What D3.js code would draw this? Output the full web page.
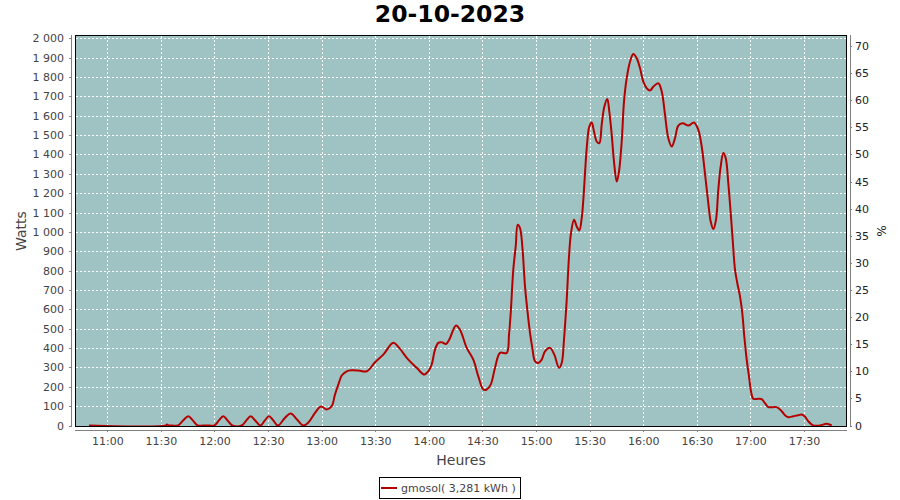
<!DOCTYPE html>
<html>
<head>
<meta charset="utf-8">
<script src="https://cdn.jsdelivr.net/npm/d3@7"></script>
<style>
  html, body { margin: 0; padding: 0; background: #ffffff; }
  svg { display: block; }
  text { font-family: "DejaVu Sans", sans-serif; }
</style>
</head>
<body>
<svg id="chart" width="900" height="500"></svg>
<script>
// ---------- data ----------
const title = "20-10-2023";
const seriesName = "gmosol( 3,281 kWh )";
const yLabel = "Watts";
const y2Label = "%";
const xLabel = "Heures";

const times = [
  "10:49:45","11:32:52","11:33:25","11:34:32","11:36:13","11:39:35","11:42:32","11:45:20","11:47:58","11:50:36",
  "11:53:24","11:57:06","11:59:54","12:02:24","12:04:56","12:07:24","12:09:58","12:15:14","12:17:45","12:20:16",
  "12:22:54","12:25:46","12:28:06","12:30:31","12:33:00","12:35:30","12:39:30","12:42:40","12:46:12","12:49:43",
  "12:52:31","12:56:16","12:59:38","13:02:49","13:05:37","13:07:28","13:09:19","13:11:13","13:14:01","13:16:49",
  "13:20:30","13:25:13","13:29:51","13:34:30","13:40:06","13:42:54","13:48:30","13:53:12","13:57:27","13:59:41",
  "14:01:36","14:03:26","14:05:17","14:07:11","14:09:36","14:11:26","14:15:12","14:17:26","14:21:11","14:24:53",
  "14:27:41","14:30:29","14:32:23","14:34:37","14:37:02","14:39:50","14:43:35","14:44:52","14:45:49","14:47:16",
  "14:48:37","14:49:44","14:51:01","14:52:19","14:53:49","14:55:07","14:56:37","14:57:55","14:59:25","15:01:16",
  "15:03:10","15:05:01","15:07:49","15:10:13","15:12:51","15:14:22","15:15:39","15:17:10","15:18:27","15:19:34",
  "15:21:15","15:22:46","15:24:13","15:25:34","15:26:28","15:27:25","15:28:22","15:29:49","15:31:10","15:32:26",
  "15:33:58","15:35:25","15:36:46","15:38:13","15:39:53","15:41:01","15:42:22","15:43:38","15:45:10","15:46:26",
  "15:47:57","15:49:14","15:50:45","15:52:36","15:54:27","15:56:21","15:58:12","16:00:02","16:01:57","16:03:48",
  "16:05:38","16:08:26","16:10:21","16:12:12","16:14:02","16:15:56","16:17:47","16:19:38","16:22:06","16:25:14",
  "16:28:25","16:30:50","16:32:44","16:34:35","16:36:25","16:37:46","16:39:13","16:40:44","16:42:01","16:43:22",
  "16:44:49","16:46:10","16:47:37","16:48:58","16:50:04","16:51:22","16:52:39","16:54:10","16:55:27","16:56:34",
  "16:57:55","16:59:12","17:00:19","17:01:37","17:04:25","17:06:19","17:08:10","17:10:01","17:14:43","17:17:30",
  "17:19:21","17:21:12","17:24:00","17:26:48","17:28:42","17:30:33","17:32:23","17:34:18","17:35:11","17:38:56",
  "17:42:41","17:45:29"
];
const watts = [
  0,0,5,0,0,0,27,48,25,0,
  0,0,0,25,48,25,0,0,25,48,
  25,0,25,48,25,0,40,62,31,0,
  15,65,98,83,100,160,211,258,280,285,
  284,280,327,366,427,406,340,298,263,280,
  315,392,427,430,421,444,517,495,401,340,
  254,186,186,211,298,375,375,469,581,805,
  925,1037,1020,925,719,598,478,401,332,323,
  340,383,401,366,298,323,444,650,873,994,
  1063,1028,1007,1071,1166,1304,1433,1544,1565,1518,
  1467,1458,1555,1647,1687,1621,1501,1363,1260,1312,
  1467,1673,1794,1879,1919,1897,1845,1776,1742,1730,
  1750,1768,1725,1604,1484,1441,1484,1549,1561,1549,
  1565,1527,1441,1300,1149,1054,1015,1063,1217,1338,
  1407,1381,1252,1097,960,805,736,667,581,461,
  340,254,177,138,138,136,115,95,95,74,
  53,43,48,53,57,45,22,5,0,0,
  9,0
];
const timeTickLabels = ["11:00","11:30","12:00","12:30","13:00","13:30","14:00","14:30","15:00","15:30","16:00","16:30","17:00","17:30"];
const wattTicks = [0,100,200,300,400,500,600,700,800,900,1000,1100,1200,1300,1400,1500,1600,1700,1800,1900,2000];
const percentTicks = [0,5,10,15,20,25,30,35,40,45,50,55,60,65,70];
const timeDomain = ["10:42:12","17:53:47"];
const wattMax = 2017;
const peakPower = 2800; // W corresponding to 100 %

// ---------- layout ----------
const plot = { left: 75.5, top: 35.5, right: 846.5, bottom: 426.5 };
const svg = d3.select("#chart");
svg.append("rect").attr("width", 900).attr("height", 500).attr("fill", "#ffffff");

const parse = d3.timeParse("%H:%M:%S");
const data = times.map((t, i) => ({ t: parse(t), w: watts[i] }));

const x = d3.scaleTime().domain(timeDomain.map(parse)).range([plot.left, plot.right]);
const y = d3.scaleLinear().domain([0, wattMax]).range([425.5, 35]);
const y2 = d3.scaleLinear().domain([0, wattMax / peakPower * 100]).range([425.5, 35]);

const fr = d3.formatLocale({ decimal: ",", thousands: "\u00a0", grouping: [3], currency: ["", ""] });
const wfmt = fr.format(",d");

// plot background
svg.append("rect")
  .attr("x", plot.left).attr("y", plot.top)
  .attr("width", plot.right - plot.left).attr("height", plot.bottom - plot.top)
  .attr("fill", "#9ec3c2");

// grid
const grid = svg.append("g").attr("stroke", "#ffffff").attr("stroke-width", 1)
  .attr("stroke-dasharray", "2,2").attr("shape-rendering", "crispEdges");
const timeTicks = timeTickLabels.map(s => parse(s + ":00"));
grid.selectAll("line.v").data(timeTicks).join("line")
  .attr("x1", d => Math.round(x(d)) + 0.5).attr("x2", d => Math.round(x(d)) + 0.5)
  .attr("y1", plot.top).attr("y2", plot.bottom);
grid.selectAll("line.h").data(wattTicks).join("line")
  .attr("y1", d => Math.round(y(d)) + 0.5).attr("y2", d => Math.round(y(d)) + 0.5)
  .attr("x1", plot.left).attr("x2", plot.right);

// clip
svg.append("clipPath").attr("id", "clip").append("rect")
  .attr("x", plot.left).attr("y", plot.top)
  .attr("width", plot.right - plot.left).attr("height", plot.bottom - plot.top);

const line = d3.line().x(d => x(d.t)).y(d => y(d.w)).curve(d3.curveCatmullRom.alpha(0.5));
svg.append("path").datum(data)
  .attr("clip-path", "url(#clip)")
  .attr("fill", "none").attr("stroke", "#b50000").attr("stroke-width", 2)
  .attr("stroke-linejoin", "round")
  .attr("d", line);

// plot outline
svg.append("rect")
  .attr("x", plot.left).attr("y", plot.top)
  .attr("width", plot.right - plot.left).attr("height", plot.bottom - plot.top)
  .attr("fill", "none").attr("stroke", "#000000").attr("stroke-width", 1)
  .attr("shape-rendering", "crispEdges");

function styleAxis(g) {
  g.selectAll(".domain").attr("stroke", "#808080").attr("shape-rendering", "crispEdges");
  g.selectAll(".tick line").attr("stroke", "#808080").attr("shape-rendering", "crispEdges");
  g.selectAll(".tick text").attr("fill", "#444444").attr("font-size", "11px")
    .attr("font-family", "DejaVu Sans, sans-serif");
}

// left axis
const yAxisG = svg.append("g").attr("transform", "translate(71,0)")
  .call(d3.axisLeft(y).tickValues(wattTicks).tickFormat(wfmt).tickSize(2).tickPadding(5).tickSizeOuter(0));
yAxisG.select(".domain").attr("d", "M0.5,35V427");
styleAxis(yAxisG);

// right axis
const y2AxisG = svg.append("g").attr("transform", "translate(850,0)")
  .call(d3.axisRight(y2).tickValues(percentTicks).tickFormat(d3.format("d")).tickSize(2).tickPadding(3).tickSizeOuter(0));
y2AxisG.select(".domain").attr("d", "M0.5,35V427");
styleAxis(y2AxisG);
y2AxisG.selectAll(".tick text").attr("fill", "#222222");

// bottom axis
const xAxisG = svg.append("g").attr("transform", "translate(0,430)")
  .call(d3.axisBottom(x).tickValues(timeTicks).tickFormat(d3.timeFormat("%H:%M")).tickSize(2).tickPadding(5).tickSizeOuter(0));
xAxisG.select(".domain").attr("d", "M75,0.5H847");
styleAxis(xAxisG);

// title
svg.append("text").attr("x", 450).attr("y", 22).attr("text-anchor", "middle")
  .attr("font-family", "Liberation Sans, Arial, sans-serif").attr("font-weight", "bold")
  .attr("font-size", "23.5px").attr("fill", "#000000").text(title);

// axis labels
svg.append("text").attr("transform", "translate(26,231) rotate(-90)")
  .attr("text-anchor", "middle").attr("font-size", "14px").attr("fill", "#444444").text(yLabel);
svg.append("text").attr("transform", "translate(877,231) rotate(90)")
  .attr("text-anchor", "middle").attr("font-size", "12px").attr("fill", "#222222").text(y2Label);
svg.append("text").attr("x", 461).attr("y", 465).attr("text-anchor", "middle")
  .attr("font-size", "14px").attr("fill", "#444444").text(xLabel);

// legend
const lg = svg.append("g");
lg.append("rect").attr("x", 379.5).attr("y", 477.5).attr("width", 141).attr("height", 21)
  .attr("fill", "#ffffff").attr("stroke", "#000000").attr("stroke-width", 1).attr("shape-rendering", "crispEdges");
lg.append("line").attr("x1", 381).attr("x2", 397).attr("y1", 488).attr("y2", 488)
  .attr("stroke", "#b50000").attr("stroke-width", 2);
lg.append("text").attr("x", 401).attr("y", 492).attr("font-size", "11px").attr("fill", "#444444").text(seriesName);
</script>
</body>
</html>
